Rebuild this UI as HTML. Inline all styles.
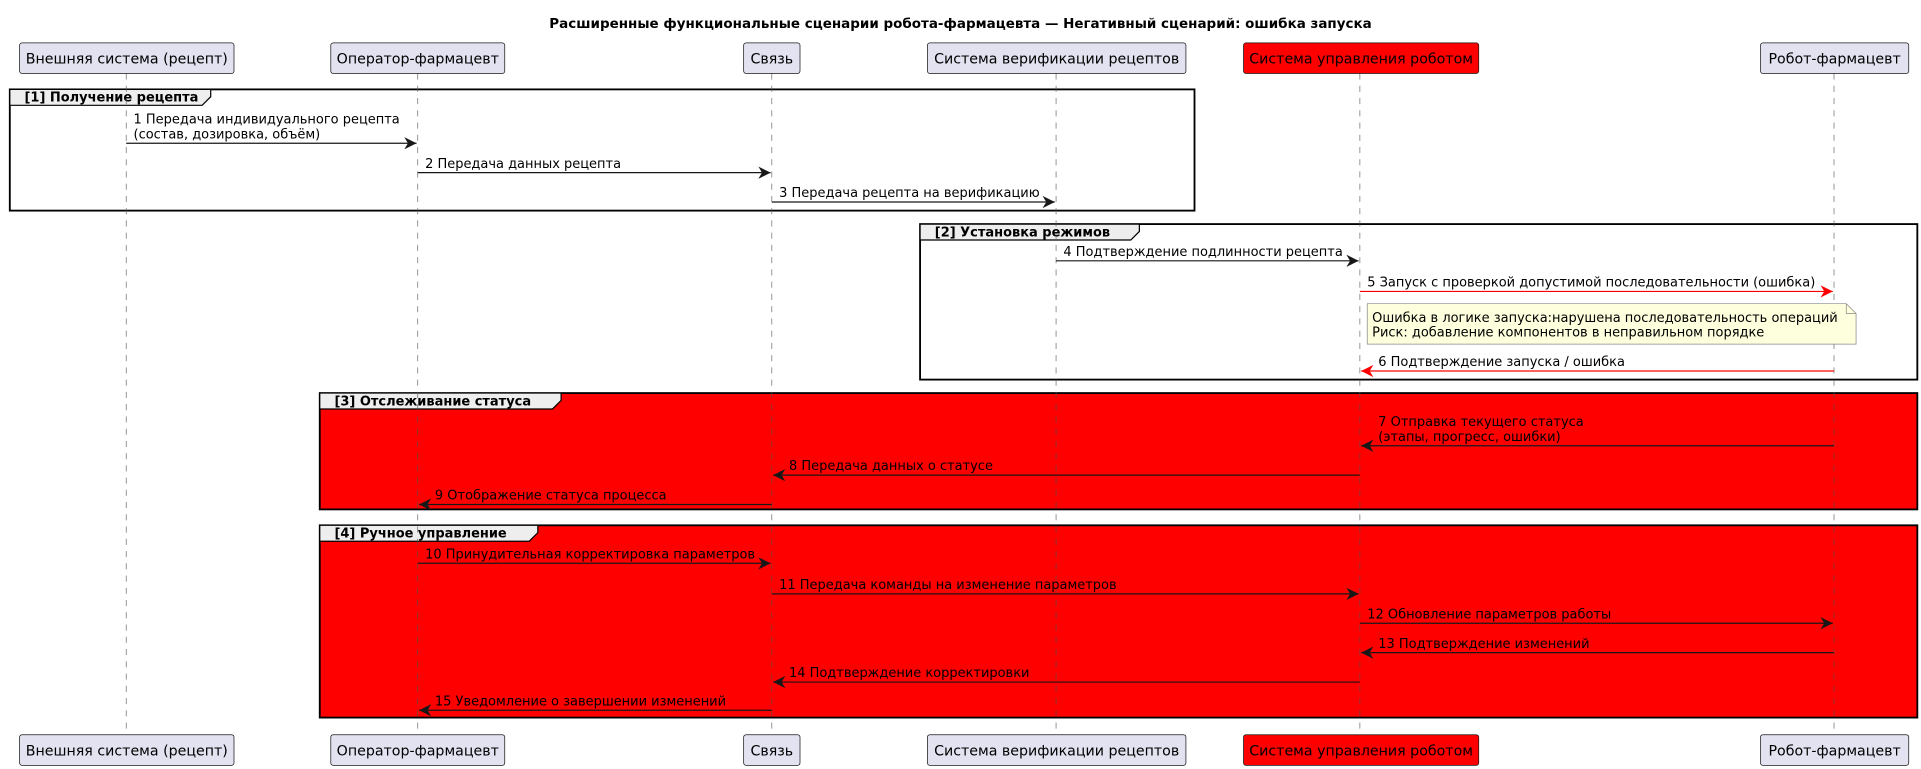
<!DOCTYPE html>
<html><head><meta charset="utf-8"><style>
html,body{margin:0;padding:0;background:#fff;width:1921px;height:769px;overflow:hidden}
svg{display:block}
text{font-family:"DejaVu Sans","Liberation Sans",sans-serif;fill:#000}
.m{font-size:10.6px}
.b{font-weight:bold;font-size:10.6px}
.p{font-size:11.6px}
</style></head><body>
<svg width="1921" height="769" viewBox="0 0 1568 628" preserveAspectRatio="none" xmlns="http://www.w3.org/2000/svg">
<defs>
<marker id="ab" viewBox="0 0 10 10" refX="10" refY="5" markerWidth="10" markerHeight="10" markerUnits="userSpaceOnUse" orient="auto-start-reverse"><path d="M0,0 L10,5 L0,10 L3,5 Z" fill="#181818"/></marker>
<marker id="ar" viewBox="0 0 10 10" refX="10" refY="5" markerWidth="10" markerHeight="10" markerUnits="userSpaceOnUse" orient="auto-start-reverse"><path d="M0,0 L10,5 L0,10 L3,5 Z" fill="#ff0000"/></marker>
</defs>
<text x="784" y="23" text-anchor="middle" class="b" style="font-size:11px">Расширенные функциональные сценарии робота-фармацевта — Негативный сценарий: ошибка запуска</text>

<rect x="8" y="73" width="967" height="99" fill="none" stroke="#000" stroke-width="1.5"/>
<path d="M8,73 H172 V79 L165,86 H8 Z" fill="#eee" stroke="#000" stroke-width="1"/>
<text x="20" y="83" class="b">[1] Получение рецепта</text>

<rect x="751" y="183" width="814" height="127" fill="none" stroke="#000" stroke-width="1.5"/>
<path d="M751,183 H930 V189 L923,196 H751 Z" fill="#eee" stroke="#000" stroke-width="1"/>
<text x="763" y="193" class="b">[2] Установка режимов</text>

<rect x="261" y="321" width="1304" height="95" fill="#ff0000" stroke="#000" stroke-width="1.5"/>
<path d="M261,321 H458 V327 L451,334 H261 Z" fill="#eee" stroke="#000" stroke-width="1"/>
<text x="273" y="331" class="b">[3] Отслеживание статуса</text>

<rect x="261" y="429" width="1304" height="157" fill="#ff0000" stroke="#000" stroke-width="1.5"/>
<path d="M261,429 H439 V435 L432,442 H261 Z" fill="#eee" stroke="#000" stroke-width="1"/>
<text x="273" y="439" class="b">[4] Ручное управление</text>

<g stroke="#555" stroke-width="0.5" stroke-dasharray="5,5">
<line x1="103" y1="60" x2="103" y2="600"/>
<line x1="341" y1="60" x2="341" y2="600"/>
<line x1="630" y1="60" x2="630" y2="600"/>
<line x1="862" y1="60" x2="862" y2="600"/>
<line x1="1110" y1="60" x2="1110" y2="600"/>
<line x1="1497" y1="60" x2="1497" y2="600"/>
</g>

<g stroke="#181818" stroke-width="0.6">
<rect x="16" y="35" width="175" height="25" rx="2" fill="#e2e2f0"/>
<rect x="270" y="35" width="142" height="25" rx="2" fill="#e2e2f0"/>
<rect x="607" y="35" width="46" height="25" rx="2" fill="#e2e2f0"/>
<rect x="757" y="35" width="211" height="25" rx="2" fill="#e2e2f0"/>
<rect x="1015" y="35" width="192" height="25" rx="2" fill="#ff0000"/>
<rect x="1437" y="35" width="121" height="25" rx="2" fill="#e2e2f0"/>
<rect x="16" y="600" width="175" height="25" rx="2" fill="#e2e2f0"/>
<rect x="270" y="600" width="142" height="25" rx="2" fill="#e2e2f0"/>
<rect x="607" y="600" width="46" height="25" rx="2" fill="#e2e2f0"/>
<rect x="757" y="600" width="211" height="25" rx="2" fill="#e2e2f0"/>
<rect x="1015" y="600" width="192" height="25" rx="2" fill="#ff0000"/>
<rect x="1437" y="600" width="121" height="25" rx="2" fill="#e2e2f0"/>
</g>
<g class="p" text-anchor="middle">
<text x="103.5" y="52" class="p">Внешняя система (рецепт)</text>
<text x="341" y="52" class="p">Оператор-фармацевт</text>
<text x="630" y="52" class="p">Связь</text>
<text x="862.5" y="52" class="p">Система верификации рецептов</text>
<text x="1111" y="52" class="p">Система управления роботом</text>
<text x="1497.5" y="52" class="p">Робот-фармацевт</text>
<text x="103.5" y="617" class="p">Внешняя система (рецепт)</text>
<text x="341" y="617" class="p">Оператор-фармацевт</text>
<text x="630" y="617" class="p">Связь</text>
<text x="862.5" y="617" class="p">Система верификации рецептов</text>
<text x="1111" y="617" class="p">Система управления роботом</text>
<text x="1497.5" y="617" class="p">Робот-фармацевт</text>
</g>

<g stroke="#181818" stroke-width="1" fill="none">
<line x1="103" y1="117" x2="340" y2="117" marker-end="url(#ab)"/>
<line x1="341" y1="141" x2="629" y2="141" marker-end="url(#ab)"/>
<line x1="630" y1="165" x2="861" y2="165" marker-end="url(#ab)"/>
<line x1="862" y1="213" x2="1109" y2="213" marker-end="url(#ab)"/>
<line x1="1497" y1="364" x2="1111" y2="364" marker-end="url(#ab)"/>
<line x1="1110" y1="388" x2="631" y2="388" marker-end="url(#ab)"/>
<line x1="630" y1="412" x2="342" y2="412" marker-end="url(#ab)"/>
<line x1="341" y1="460" x2="629" y2="460" marker-end="url(#ab)"/>
<line x1="630" y1="485" x2="1109" y2="485" marker-end="url(#ab)"/>
<line x1="1110" y1="509" x2="1496" y2="509" marker-end="url(#ab)"/>
<line x1="1497" y1="533" x2="1111" y2="533" marker-end="url(#ab)"/>
<line x1="1110" y1="557" x2="631" y2="557" marker-end="url(#ab)"/>
<line x1="630" y1="580" x2="342" y2="580" marker-end="url(#ab)"/>
</g>
<g stroke="#ff0000" stroke-width="1" fill="none">
<line x1="1110" y1="238" x2="1496" y2="238" marker-end="url(#ar)"/>
<line x1="1497" y1="303" x2="1111" y2="303" marker-end="url(#ar)"/>
</g>

<text x="109" y="101" class="m">1 Передача индивидуального рецепта</text>
<text x="109" y="113" class="m">(состав, дозировка, объём)</text>
<text x="347" y="137" class="m">2 Передача данных рецепта</text>
<text x="636" y="161" class="m">3 Передача рецепта на верификацию</text>
<text x="868" y="209" class="m">4 Подтверждение подлинности рецепта</text>
<text x="1116" y="234" class="m">5 Запуск с проверкой допустимой последовательности (ошибка)</text>

<path d="M1116,248 H1507 L1515,256 V281 H1116 Z" fill="#feffdd" stroke="#888" stroke-width="0.6"/>
<path d="M1507,248 V256 H1515" fill="none" stroke="#888" stroke-width="0.6"/>
<text x="1120" y="263" class="m">Ошибка в логике запуска:нарушена последовательность операций</text>
<text x="1120" y="275" class="m">Риск: добавление компонентов в неправильном порядке</text>

<text x="1125" y="299" class="m">6 Подтверждение запуска / ошибка</text>
<text x="1125" y="348" class="m">7 Отправка текущего статуса</text>
<text x="1125" y="360" class="m">(этапы, прогресс, ошибки)</text>
<text x="644" y="384" class="m">8 Передача данных о статусе</text>
<text x="355" y="408" class="m">9 Отображение статуса процесса</text>
<text x="347" y="456" class="m">10 Принудительная корректировка параметров</text>
<text x="636" y="481" class="m">11 Передача команды на изменение параметров</text>
<text x="1116" y="505" class="m">12 Обновление параметров работы</text>
<text x="1125" y="529" class="m">13 Подтверждение изменений</text>
<text x="644" y="553" class="m">14 Подтверждение корректировки</text>
<text x="355" y="576" class="m">15 Уведомление о завершении изменений</text>
</svg>
</body></html>
